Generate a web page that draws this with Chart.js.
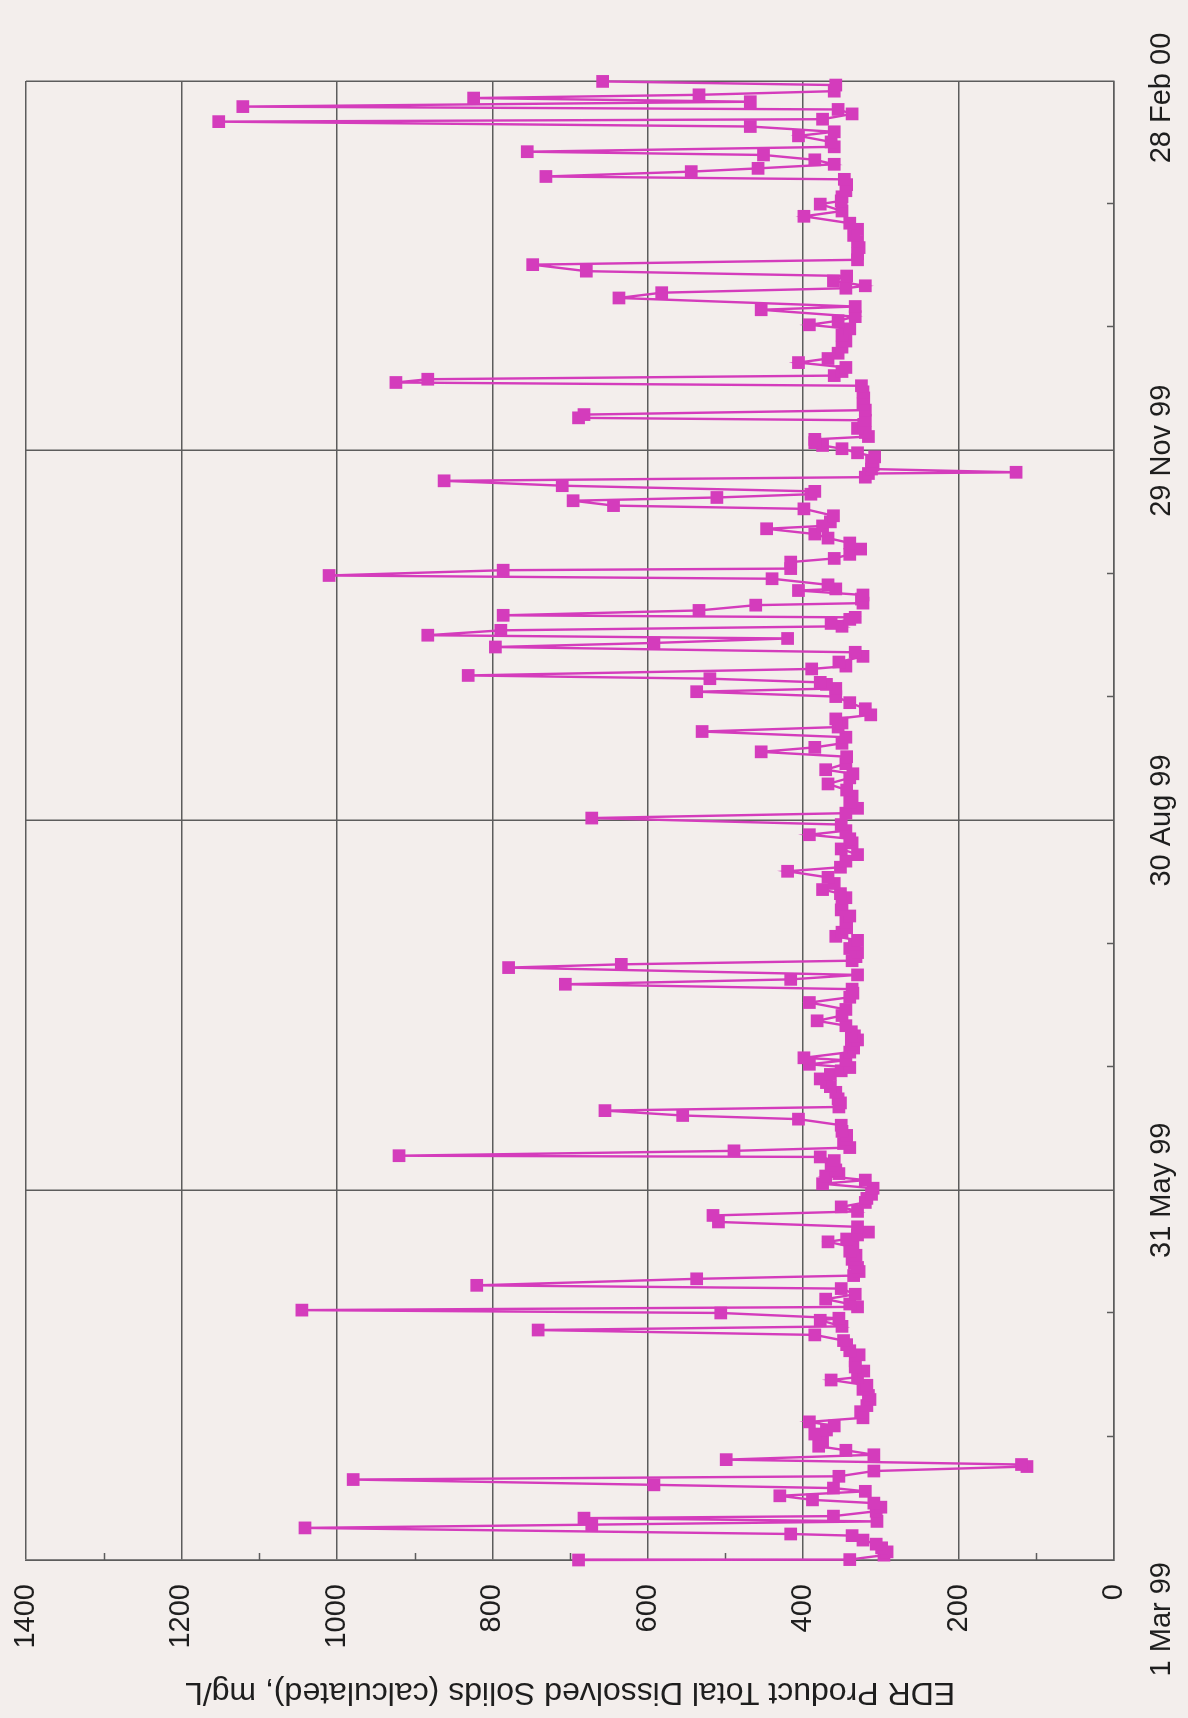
<!DOCTYPE html>
<html>
<head>
<meta charset="utf-8">
<script src="https://cdn.jsdelivr.net/npm/chart.js@4.4.0/dist/chart.umd.min.js"></script>
<style>
  html, body { margin: 0; padding: 0; background: #f3eeec; overflow: hidden; }
  /* chart is drawn upright, then turned a quarter turn like the scanned page */
  #wrap { position: absolute; left: 0; top: 0; width: 1718px; height: 1188px;
          transform-origin: 0 0; transform: translateY(1718px) rotate(-90deg); }
</style>
</head>
<body>
<div id="wrap"><canvas id="tds" width="1718" height="1188"></canvas></div>
<script>
// days since 1 Mar 99
const dayOffsets = [
  0, 0.1, 1.2, 2, 3, 3.9, 4.9, 6, 6.4, 7.9, 8.7, 9.5, 10.3, 10.8, 12, 13, 14, 14.8, 15.8, 16.9,
  17.7, 18.5, 19.8, 20.6, 21.9, 23, 23.5, 24.7, 25.9, 27, 28, 29, 30, 31, 32, 33, 34, 35, 36.5, 38,
  39.5, 40.5, 42, 43, 44.3, 45, 46.5, 47.5, 49, 50.5, 51.5, 53, 54, 55.4, 56.6, 57.5, 59, 59.5, 60.8, 61.5,
  62.3, 63, 64.2, 65.4, 66.8, 67.6, 69.2, 70, 71, 72, 73, 74, 75, 76, 77, 78.3, 79, 80, 80.7, 82,
  83.2, 84.8, 85.8, 86.9, 88, 89, 90, 91.5, 92.6, 93.5, 94.5, 95.1, 96, 97.1, 98.3, 99.2, 99.5, 100.7, 101.5, 102.5,
  103.5, 104.5, 105.5, 107, 108.5, 109.4, 110.6, 111.5, 112.5, 113.5, 115.1, 116.5, 117.5, 118.4, 119.5, 120.4, 121.2, 122, 123, 123.6,
  125, 126, 127, 128, 129, 130, 131.5, 132.7, 134, 135.5, 137.2, 138.5, 139.5, 140.5, 141.7, 142.9, 144, 145.8, 146.6, 147.5,
  148.5, 149.5, 150.5, 151.5, 152.5, 153.5, 154.5, 155.6, 157, 158.5, 160, 161.5, 163, 164, 165, 166.5, 168, 169.5, 170.5, 172,
  173.6, 175, 176.5, 177.5, 178.5, 179.5, 181, 182.6, 183.8, 185, 186.5, 188, 189.5, 191, 192.5, 193.5, 194.5, 196, 197.7, 198.9,
  200, 201, 202.5, 203.9, 205, 206, 207, 208, 209.5, 211, 212.5, 213.7, 214.5, 215.5, 216, 216.9, 217.7, 219.3, 220, 221,
  222.4, 223.4, 224.7, 225.7, 226.8, 227.6, 228.8, 229.8, 230.5, 231.5, 232, 232.5, 233.7, 235, 235.5, 236.5, 237.5, 238.6, 239, 240,
  241.5, 242.3, 243.6, 244, 245.6, 246.5, 247.5, 248.8, 250.3, 251.5, 252.5, 253.8, 254.5, 255.5, 257, 258.7, 259.5, 260.7, 261.5, 262.3,
  263, 264.4, 265.6, 266.5, 267.4, 267.7, 268.5, 269.5, 270.5, 271.5, 272.5, 273.5, 274.3, 275, 275.8, 276.5, 277.5, 278.5, 279.5, 280.5,
  281.1, 281.9, 283, 284.5, 286, 287.5, 289, 289.8, 290.6, 291.5, 292.5, 293.5, 294.7, 295.7, 297, 298.5, 300, 301.5, 303, 304,
  305, 306, 307.7, 308.5, 310.6, 311.9, 313, 313.6, 314.8, 316, 317.2, 318.8, 320, 321.5, 323, 324.5, 326, 327.5, 329, 330.7,
  332, 333.7, 334.5, 335.5, 337, 338.5, 339.8, 340.5, 341.7, 342.5, 343.5, 344.6, 345.8, 346.6, 347.8, 349, 350.5, 351.5, 352.8, 354,
  354.6, 355.9, 357, 357.7, 358.9, 359.8, 360.6, 361.5, 363, 363.9
];
// mg/L
const tdsValues = [
  689, 340, 296, 292, 299, 306, 323, 337, 416, 1041, 672, 305, 682, 361, 306, 300, 309, 388, 430, 320,
  361, 592, 979, 354, 309, 112, 119, 499, 309, 345, 380, 375, 378, 385, 370, 360, 392, 323, 326, 318,
  314, 316, 323, 318, 364, 330, 322, 333, 333, 328, 340, 344, 348, 385, 741, 350, 378, 354, 506, 1045,
  330, 340, 371, 333, 351, 820, 537, 335, 328, 330, 334, 337, 332, 340, 336, 368, 344, 330, 316, 330,
  509, 516, 330, 351, 320, 318, 312, 310, 375, 320, 371, 354, 358, 364, 360, 378, 920, 489, 340, 348,
  345, 344, 350, 351, 406, 555, 655, 354, 352, 355, 358, 365, 370, 378, 365, 351, 340, 392, 345, 399,
  340, 335, 338, 330, 334, 338, 345, 382, 350, 345, 392, 340, 336, 337, 706, 416, 330, 779, 634, 337,
  332, 330, 340, 334, 330, 358, 350, 344, 345, 340, 351, 350, 345, 352, 375, 360, 368, 420, 352, 345,
  330, 351, 337, 340, 392, 345, 351, 672, 345, 330, 340, 337, 344, 368, 340, 336, 371, 345, 344, 454,
  385, 350, 345, 530, 355, 350, 358, 313, 320, 340, 358, 537, 358, 370, 378, 520, 831, 389, 345, 354,
  323, 333, 796, 592, 420, 883, 789, 350, 364, 340, 333, 786, 534, 461, 323, 325, 323, 406, 358, 368,
  440, 1010, 786, 416, 416, 360, 340, 326, 340, 368, 385, 447, 375, 365, 361, 399, 644, 696, 511, 390,
  385, 710, 862, 320, 316, 126, 312, 310, 312, 308, 330, 350, 375, 385, 385, 316, 320, 330, 322, 320,
  689, 682, 320, 323, 322, 323, 325, 924, 883, 360, 350, 345, 406, 368, 355, 350, 345, 350, 340, 392,
  355, 333, 454, 333, 637, 582, 345, 320, 361, 344, 679, 748, 330, 330, 328, 330, 335, 330, 340, 399,
  350, 378, 351, 350, 345, 344, 347, 731, 544, 458, 360, 385, 451, 755, 360, 364, 406, 360, 468, 1152,
  375, 337, 355, 1121, 468, 824, 534, 360, 358, 658
];
const dateTicks = [0, 91, 182, 273, 364];
const dateLabels = ['1 Mar 99', '31 May 99', '30 Aug 99', '29 Nov 99', '28 Feb 00'];
const valueMin = 0;
const valueMax = 1400;
const valueStep = 200;
const axisTitle = 'EDR Product Total Dissolved Solids (calculated), mg/L';

const MAGENTA = '#d43cbc';
const GRID = '#5c5c5c';
const TEXT = '#1e1e1e';
const FONT = '"Liberation Sans", Arial, sans-serif';

const points = dayOffsets.map((d, i) => ({ x: d, y: tdsValues[i] }));

// small inside ticks: every 100 mg/L on the value axis, every month on the date axis
const minorTicks = {
  id: 'minorTicks',
  beforeDatasetsDraw(chart) {
    const { ctx, chartArea, scales: { x, y } } = chart;
    ctx.save();
    ctx.strokeStyle = GRID;
    ctx.lineWidth = 1.5;
    ctx.beginPath();
    for (let v = valueMin + valueStep / 2; v < valueMax; v += valueStep) {
      const py = Math.round(y.getPixelForValue(v)) + 0.5;
      ctx.moveTo(chartArea.left, py);
      ctx.lineTo(chartArea.left + 7, py);
    }
    for (let i = 0; i < dateTicks.length - 1; i++) {
      const step = (dateTicks[i + 1] - dateTicks[i]) / 3;
      for (let k = 1; k < 3; k++) {
        const px = Math.round(x.getPixelForValue(dateTicks[i] + k * step)) + 0.5;
        ctx.moveTo(px, chartArea.bottom);
        ctx.lineTo(px, chartArea.bottom - 7);
      }
    }
    ctx.stroke();
    ctx.restore();
  }
};

const dateLabelPlugin = {
  id: 'dateLabels',
  afterDraw(chart) {
    const { ctx, chartArea, scales: { x } } = chart;
    ctx.save();
    ctx.font = '29px ' + FONT;
    ctx.fillStyle = TEXT;
    ctx.textBaseline = 'middle';
    dateTicks.forEach((d, i) => {
      let px = x.getPixelForValue(d);
      if (i === 0) { ctx.textAlign = 'right'; px -= 2; }
      else if (i === dateTicks.length - 1) { ctx.textAlign = 'center'; px -= 17; }
      else { ctx.textAlign = 'center'; }
      ctx.fillText(dateLabels[i], px, chartArea.bottom + 48);
    });
    ctx.restore();
  }
};

new Chart(document.getElementById('tds'), {
  type: 'line',
  data: {
    datasets: [{
      data: points,
      borderColor: MAGENTA,
      backgroundColor: MAGENTA,
      borderWidth: 2.4,
      pointStyle: 'rect',
      pointRadius: 9,
      pointBorderWidth: 0,
      tension: 0,
      clip: false
    }]
  },
  options: {
    responsive: false,
    animation: false,
    devicePixelRatio: 1,
    layout: { padding: { top: 26, right: 81, left: 0, bottom: 0 } },
    plugins: { legend: { display: false }, tooltip: { enabled: false } },
    scales: {
      x: {
        type: 'linear',
        min: dateTicks[0],
        max: dateTicks[dateTicks.length - 1],
        afterBuildTicks: s => { s.ticks = dateTicks.map(v => ({ value: v })); },
        afterFit: s => { s.height = 74; },
        grid: { color: GRID, lineWidth: 1.5, drawTicks: false },
        border: { color: GRID, width: 1.5 },
        ticks: { display: false }
      },
      y: {
        min: valueMin,
        max: valueMax,
        afterFit: s => { s.width = 158; s.paddingTop = 0; s.paddingBottom = 0; },
        grid: { color: GRID, lineWidth: 1.5, drawTicks: false },
        border: { color: GRID, width: 1.5 },
        ticks: {
          stepSize: valueStep, color: TEXT, padding: 24,
          font: { family: FONT, size: 29 },
          callback: v => String(v)
        },
        title: {
          display: true,
          text: axisTitle,
          color: TEXT,
          font: { family: FONT, size: 32 },
          padding: { top: 7, bottom: 0 }
        }
      }
    }
  },
  plugins: [minorTicks, dateLabelPlugin]
});
</script>
</body>
</html>
